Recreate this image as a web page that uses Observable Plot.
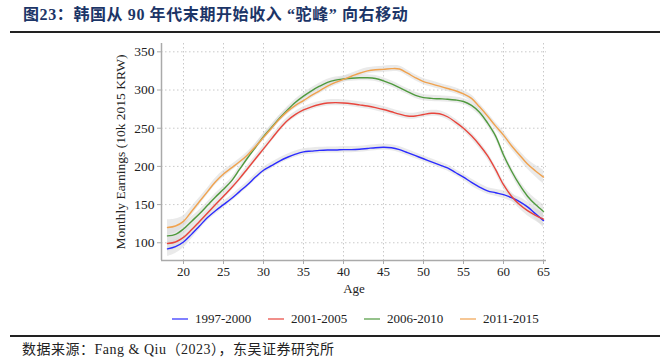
<!DOCTYPE html>
<html>
<head>
<meta charset="utf-8">
<script src="https://cdn.jsdelivr.net/npm/d3@7"></script>
<script src="https://cdn.jsdelivr.net/npm/@observablehq/plot@0.6"></script>
<style>
  html, body { margin: 0; padding: 0; background: #fff; }
  body { width: 670px; height: 357px; position: relative; overflow: hidden; }
  #title { position: absolute; left: 23px; top: 6px; line-height: 18px; font-family: "Liberation Serif", "Noto Sans CJK SC", serif; font-weight: bold; font-size: 16px; letter-spacing: 0.6px; color: #1c3567; white-space: pre; }
  .rule { position: absolute; left: 10px; width: 650px; height: 2px; background: #222; }
  #chart { position: absolute; left: 0; top: 36px; }
  #legend { position: absolute; left: 0; top: 310px; width: 670px; height: 18px; font-family: "Liberation Serif", serif; font-size: 13px; color: #222; }
  .item { position: absolute; top: 0; display: flex; align-items: center; height: 18px; }
  .sw { width: 16px; height: 2px; margin-right: 7px; opacity: 0.6; }
  #caption { position: absolute; left: 22px; top: 343px; line-height: 14px; font-family: "Liberation Serif", "Noto Sans CJK SC", serif; font-size: 14px; letter-spacing: 0.5px; color: #222; white-space: pre; }
</style>
</head>
<body>
<div id="title">图23：韩国从 90 年代末期开始收入 “驼峰” 向右移动</div>
<div class="rule" style="top:335px; display:none"></div>
<div class="rule" style="top:31px"></div>
<div id="chart"></div>
<div id="legend"></div>
<div class="rule" style="top:335px"></div>
<div id="caption">数据来源：Fang &amp; Qiu（2023），东吴证券研究所</div>
<script>
const ages = [18,19,20,21,22,23,24,25,26,27,28,29,30,31,32,33,34,35,36,37,38,39,40,41,42,43,44,45,46,47,48,49,50,51,52,53,54,55,56,57,58,59,60,61,62,63,64,65];

const series = ["1997-2000", "2001-2005", "2006-2010", "2011-2015"];
const colors = ["#2b2bff", "#e8453c", "#4f9a3e", "#f0a24e"];

const earn1997 = [92,95,101,111,122,133,142,150,158,167,176,186,195,201,207,212,216,219,220,221,221.5,221.5,222,222,222.5,223.5,224.5,225,224.5,222,218,214,210,206,202,198,192,186,179,173,168,165.5,163,159,154,147,138,129];
const earn2001 = [99,101,107,117,128,139,150,161,172,184,197,210,223,236,249,260,268,274,278,281,283,283.5,283,282,280.5,279,277,274.5,271.5,268.5,266,266,268,269.5,269,265,258,250,240,228,214,196,176,161,150,142,136,131];
const earn2006 = [109,111,118,128,138,149,160,170,181,196,211,225,239,251,263,274,284,292,299,305,310,313,314.5,315.5,316,316,315,312,308,303,298,293,290,289,288.5,288,287,285,280,271,257,240,215,194,176,161,150,141];
const earn2011 = [120,122,128,141,154,167,180,190,198,206,215,226,238,250,262,272,280,286,293,299,305,310,314,318,322,325,326.5,327,328,327.5,322,316,311,308,305,302,299,295,289,278,266,253,241,227,215,203,194,186];
const bandHalf = [10,9,7.5,6,5,4.5,4.5,4.5,4,4,4,4,4,4,4,4,4,4,4,4,4,4,4,4,4,4,4,4,4,4,4,4,4,4,4,4,4,4,4.5,4.5,4.5,4.5,5,5,5.5,6.5,7.5,9];

const values = [earn1997, earn2001, earn2006, earn2011];
const data = [];
series.forEach((s, si) => {
  ages.forEach((a, i) => {
    data.push({ series: s, age: a, value: values[si][i], lo: values[si][i] - bandHalf[i], hi: values[si][i] + bandHalf[i] });
  });
});

const xTicks = [20,25,30,35,40,45,50,55,60,65];
const yTicks = [100,150,200,250,300,350];

const chart = Plot.plot({
  width: 670,
  height: 264,
  marginTop: 7,
  marginBottom: 40,
  marginLeft: 161,
  marginRight: 124,
  style: { fontFamily: "Liberation Serif, serif", fontSize: "13px", color: "#222", background: "#fff" },
  x: { domain: [17.25, 65.375] },
  y: { domain: [76.8, 360.9] },
  color: { domain: series, range: colors },
  marks: [
    Plot.gridX(xTicks, { stroke: "#bbb", strokeOpacity: 0.8, strokeDasharray: "1.5,2.5" }),
    Plot.gridY(yTicks, { stroke: "#bbb", strokeOpacity: 0.8, strokeDasharray: "1.5,2.5" }),
    Plot.areaY(data, { x: "age", y1: "lo", y2: "hi", z: "series", fill: "#d9d9d9", fillOpacity: 0.55, curve: "catmull-rom" }),
    Plot.lineY(data, { x: "age", y: "value", z: "series", stroke: "series", strokeWidth: 1.4, curve: "catmull-rom" }),
    Plot.ruleX([17.25], { stroke: "#aaa", strokeWidth: 1.5 }),
    Plot.ruleY([76.8], { stroke: "#aaa", strokeWidth: 1.5 }),
    Plot.axisX(xTicks, { tickSize: 4, tickPadding: 2, stroke: "#aaa", label: "Age", labelAnchor: "center", labelArrow: "none", labelOffset: 32, fontSize: 13 }),
    Plot.axisY(yTicks, { tickSize: 4, tickPadding: 3, stroke: "#aaa", label: "Monthly Earnings (10k 2015 KRW)", labelAnchor: "center", labelArrow: "none", labelOffset: 46, fontSize: 13.5 })
  ]
});
document.getElementById("chart").appendChild(chart);

const legend = document.getElementById("legend");
const lefts = [172, 268, 364, 460];
series.forEach((s, i) => {
  const it = document.createElement("div");
  it.className = "item";
  it.style.left = lefts[i] + "px";
  const sw = document.createElement("div");
  sw.className = "sw";
  sw.style.background = colors[i];
  const tx = document.createElement("span");
  tx.textContent = s;
  it.appendChild(sw);
  it.appendChild(tx);
  legend.appendChild(it);
});
</script>
</body>
</html>
